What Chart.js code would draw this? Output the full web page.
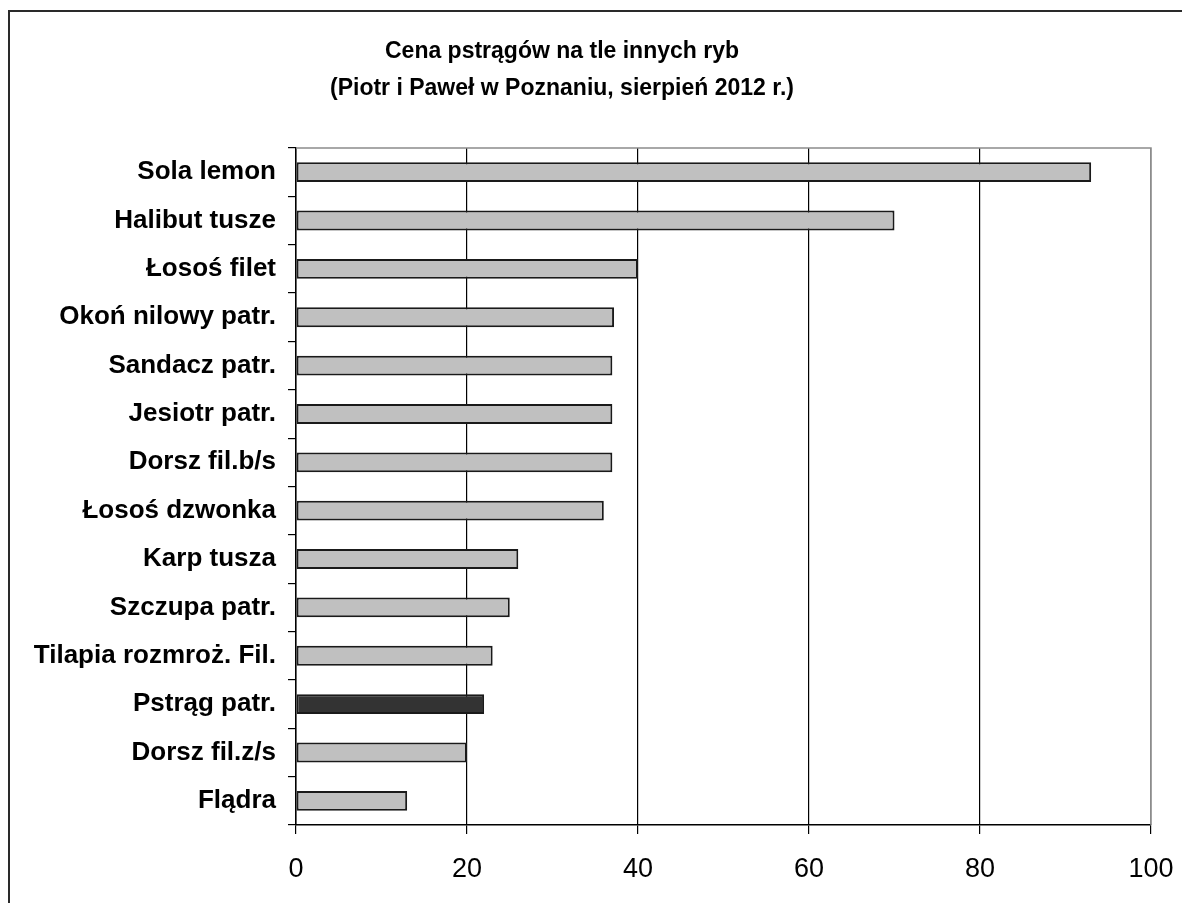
<!DOCTYPE html>
<html>
<head>
<meta charset="utf-8">
<script src="https://cdn.jsdelivr.net/npm/chart.js@4/dist/chart.umd.min.js"></script>
<style>
  html, body { margin: 0; padding: 0; background: #fff; overflow: hidden; }
  #wrap { position: relative; width: 1182px; height: 903px; }
  #frame { position: absolute; left: 8px; top: 10px; width: 1300px; height: 1000px;
           border-left: 2px solid #2a2a2a; border-top: 2px solid #2a2a2a; }
  canvas { position: absolute; left: 0; top: 0; }
</style>
</head>
<body>
<div id="wrap">
  <div id="frame"></div>
  <canvas id="c" width="1182" height="903"></canvas>
</div>
<script>
const titleLines = ['Cena pstrągów na tle innych ryb', '(Piotr i Paweł w Poznaniu, sierpień 2012 r.)'];
const categories = ['Sola lemon', 'Halibut tusze', 'Łosoś filet', 'Okoń nilowy patr.', 'Sandacz patr.',
  'Jesiotr patr.', 'Dorsz fil.b/s', 'Łosoś dzwonka', 'Karp tusza', 'Szczupa patr.',
  'Tilapia rozmroż. Fil.', 'Pstrąg patr.', 'Dorsz fil.z/s', 'Flądra'];
const prices = [93, 70, 40, 37.2, 37, 37, 37, 36, 26, 25, 23, 22, 20, 13];
const highlighted = 'Pstrąg patr.';
const xTicks = [0, 20, 40, 60, 80, 100];

const FONT = '"Liberation Sans", Arial, sans-serif';

const frameAndTitle = {
  id: 'frameAndTitle',
  afterDatasetsDraw(chart) {
    const { ctx, chartArea: a } = chart;
    ctx.save();
    ctx.strokeStyle = '#8c8c8c';
    ctx.lineWidth = 1.5;
    ctx.beginPath();
    ctx.moveTo(a.left, a.top);
    ctx.lineTo(a.right, a.top);
    ctx.lineTo(a.right, a.bottom);
    ctx.stroke();
    ctx.restore();
  },
  afterDraw(chart) {
    const { ctx } = chart;
    ctx.save();
    ctx.fillStyle = '#000';
    ctx.font = 'bold 23px ' + FONT;
    ctx.textAlign = 'center';
    ctx.textBaseline = 'middle';
    ctx.fillText(titleLines[0], 562, 52);
    ctx.fillText(titleLines[1], 562, 89);
    ctx.restore();
  }
};

new Chart(document.getElementById('c'), {
  type: 'bar',
  data: {
    labels: categories,
    datasets: [{
      data: prices,
      backgroundColor: categories.map(c => c === highlighted ? '#333333' : '#c0c0c0'),
      borderColor: '#1a1a1a',
      borderWidth: 2,
      borderSkipped: false,
      barPercentage: 0.41,
      categoryPercentage: 1.0
    }]
  },
  options: {
    indexAxis: 'y',
    responsive: false,
    animation: false,
    devicePixelRatio: 1,
    layout: { padding: { top: 148, right: 31, left: 0, bottom: 0 } },
    plugins: { legend: { display: false }, title: { display: false }, tooltip: { enabled: false } },
    scales: {
      x: {
        type: 'linear',
        min: 0, max: 100,
        afterBuildTicks(scale) { scale.ticks = xTicks.map(v => ({ value: v })); },
        afterFit(scale) { scale.height = 903 - 825; scale.paddingLeft = 0; scale.paddingRight = 0; },
        border: { display: true, color: '#000', width: 1.5 },
        grid: {
          display: true,
          drawOnChartArea: true,
          drawTicks: true,
          tickLength: 9,
          lineWidth: 1.2,
          color: ctx => (ctx.tick && ctx.tick.value === 100) ? '#8c8c8c' : '#000',
          tickColor: '#000'
        },
        ticks: {
          color: '#000',
          padding: 19,
          font: { family: FONT, size: 27 },
          maxRotation: 0
        }
      },
      y: {
        type: 'category',
        offset: true,
        afterFit(scale) { scale.width = 296; scale.paddingTop = 0; scale.paddingBottom = 0; },
        border: { display: true, color: '#000', width: 1.5 },
        grid: {
          display: true,
          offset: true,
          drawOnChartArea: false,
          drawTicks: true,
          tickLength: 8,
          color: '#000',
          lineWidth: 1.2
        },
        ticks: {
          color: '#000',
          padding: 12,
          font: { family: FONT, size: 26, weight: 'bold' }
        }
      }
    }
  },
  plugins: [frameAndTitle]
});
</script>
</body>
</html>
